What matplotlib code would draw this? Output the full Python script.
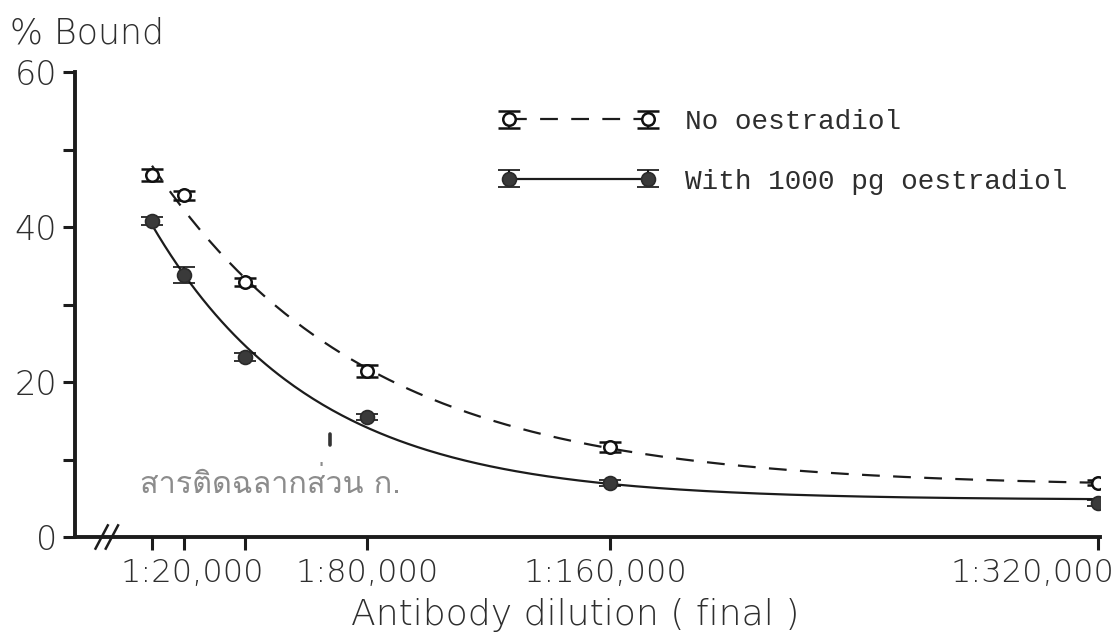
import numpy as np
import matplotlib
matplotlib.use("Agg")
import matplotlib.pyplot as plt
from matplotlib import font_manager
from matplotlib.ft2font import FT2Font
from matplotlib.transforms import ScaledTranslation
from matplotlib.legend_handler import HandlerErrorbar
from matplotlib.container import ErrorbarContainer

# dilution (x 1000) and % bound
dilution_k = [20, 30, 50, 80, 160, 320]
no_oestradiol = [46.7, 44.1, 32.9, 21.4, 11.6, 7.0]
no_oestradiol_err = [0.8, 0.6, 0.5, 0.8, 0.6, 0.3]
with_oestradiol = [40.8, 33.8, 23.2, 15.5, 7.0, 4.4]
with_oestradiol_err = [0.5, 1.0, 0.5, 0.4, 0.4, 0.4]

major_ticks = [20, 80, 160, 320]
major_labels = ["1:20,000", "1:80,000", "1:160,000", "1:320,000"]
minor_ticks = [30, 50]
series_labels = ["No oestradiol", "With 1000 pg oestradiol"]
thai_note = "สารติดฉลากส่วน ก."

# the hand drawn axis is not evenly spaced: dilution -> drawing position
AXIS_KNOTS = np.array([20, 30, 50, 80, 160, 320], float)
AXIS_POS = np.array([152, 184, 245, 367, 610, 1098], float)


def _piecewise(x, xs, ys):
    x = np.asarray(x, float)
    y = np.interp(x, xs, ys)
    s0 = (ys[1] - ys[0]) / (xs[1] - xs[0])
    s1 = (ys[-1] - ys[-2]) / (xs[-1] - xs[-2])
    y = np.where(x < xs[0], ys[0] + (x - xs[0]) * s0, y)
    y = np.where(x > xs[-1], ys[-1] + (x - xs[-1]) * s1, y)
    return y


def fwd(x):
    return _piecewise(x, AXIS_KNOTS, AXIS_POS)


def inv(u):
    return _piecewise(u, AXIS_POS, AXIS_KNOTS)


def fit_curve(x, y):
    # y = a*exp(-b*u) + c fitted in drawing space
    u = fwd(x) - fwd(x[0])
    y = np.asarray(y, float)
    best = None
    for b in np.linspace(0.0005, 0.03, 600):
        A = np.column_stack([np.exp(-b * u), np.ones_like(u)])
        coef, res, _, _ = np.linalg.lstsq(A, y, rcond=None)
        err = np.sum((A @ coef - y) ** 2)
        if best is None or err < best[0]:
            best = (err, b, coef)
    _, b, (a, c) = best
    uu = np.linspace(u[0], u[-1], 300)
    return inv(uu + fwd(x[0])), a * np.exp(-b * uu) + c


def find_thai_font():
    for f in font_manager.fontManager.ttflist:
        try:
            ft = FT2Font(f.fname)
            if ft.get_char_index(ord("ส")) and ft.get_char_index(ord("า")):
                return f.name
        except Exception:
            pass
    return "DejaVu Sans"


ink = "#1c1c1c"
text_col = "#2e2e2e"
plt.rcParams["font.weight"] = "light"

fig = plt.figure(figsize=(11.19, 6.42), dpi=100)
ax = fig.add_axes([75 / 1119, 1 - 537 / 642, 1025 / 1119, 465 / 642])
ax.set_xscale("function", functions=(fwd, inv))

x = np.array(dilution_k, float)

cx, cy = fit_curve(x, no_oestradiol)
line1, = ax.plot(cx, cy, color=ink, lw=1.6, linestyle=(0, (8, 6)), zorder=2)
cx, cy = fit_curve(x, with_oestradiol)
line2, = ax.plot(cx, cy, color=ink, lw=1.6, zorder=2)

eb1 = ax.errorbar(x, no_oestradiol, yerr=no_oestradiol_err, fmt="o", ms=9,
                  mfc="white", mec="#111111", mew=1.8, ecolor="#111111",
                  elinewidth=1.5, capsize=8, capthick=2.2, zorder=4)
eb2 = ax.errorbar(x, with_oestradiol, yerr=with_oestradiol_err, fmt="o", ms=10,
                  mfc="#3a3a3a", mec="#2a2a2a", mew=1.2, ecolor="#111111",
                  elinewidth=1.5, capsize=8, capthick=2.2, zorder=4)

ax.set_xlim(inv(75), inv(1100))
ax.set_ylim(0, 60)

for side in ["top", "right"]:
    ax.spines[side].set_visible(False)
for side in ["left", "bottom"]:
    ax.spines[side].set_linewidth(2.8)
    ax.spines[side].set_color(ink)

ax.set_yticks([0, 20, 40, 60])
ax.set_yticks([10, 30, 50], minor=True)
ax.set_xticks(major_ticks)
ax.set_xticklabels(major_labels)
ax.set_xticks(minor_ticks, minor=True)
ax.tick_params(which="both", direction="out", length=9, width=2.2, color=ink)
ax.tick_params(axis="y", labelsize=24, labelcolor=text_col, pad=4)
ax.tick_params(axis="x", labelsize=23, labelcolor=text_col, pad=6)

# labels under the ticks are shifted in the original drawing
label_shift_px = [40, 0, -5, -66]
for lab, dx in zip(ax.get_xticklabels(), label_shift_px):
    lab.set_transform(lab.get_transform() + ScaledTranslation(dx / 100, 0, fig.dpi_scale_trans))

# axis break marks
for bx in [0.026, 0.036]:
    ax.plot([bx - 0.006, bx + 0.006], [-0.025, 0.025], transform=ax.transAxes,
            color=ink, lw=1.8, clip_on=False, zorder=5)

fig.text(10 / 1119, 1 - 33 / 642, "% Bound", fontsize=25, color=text_col,
         ha="left", va="center")
fig.text(575 / 1119, 1 - 615 / 642, "Antibody dilution ( final )", fontsize=26,
         color=text_col, ha="center", va="center")

ax.text(0.063, 0.116, thai_note, transform=ax.transAxes, fontsize=22,
        color="#8c8c8c", ha="left", va="center",
        family=[find_thai_font(), "DejaVu Sans"])
# small pen mark above the note
ax.plot([0.249, 0.249], [0.197, 0.221], transform=ax.transAxes,
        color="#333333", lw=2.6, solid_capstyle="round")

leg = ax.legend([(line1, eb1), (line2, eb2)], series_labels,
                loc="upper left", bbox_to_anchor=(0.415, 0.92),
                frameon=False, numpoints=2, handlelength=5.6,
                handletextpad=1.05, labelspacing=1.2, borderpad=0,
                borderaxespad=0,
                prop={"family": "Liberation Mono", "size": 20, "weight": "normal"},
                handler_map={ErrorbarContainer: HandlerErrorbar(xerr_size=0.3)})
for t in leg.get_texts():
    t.set_color(text_col)

fig.savefig("out.png", dpi=100, facecolor="white")
